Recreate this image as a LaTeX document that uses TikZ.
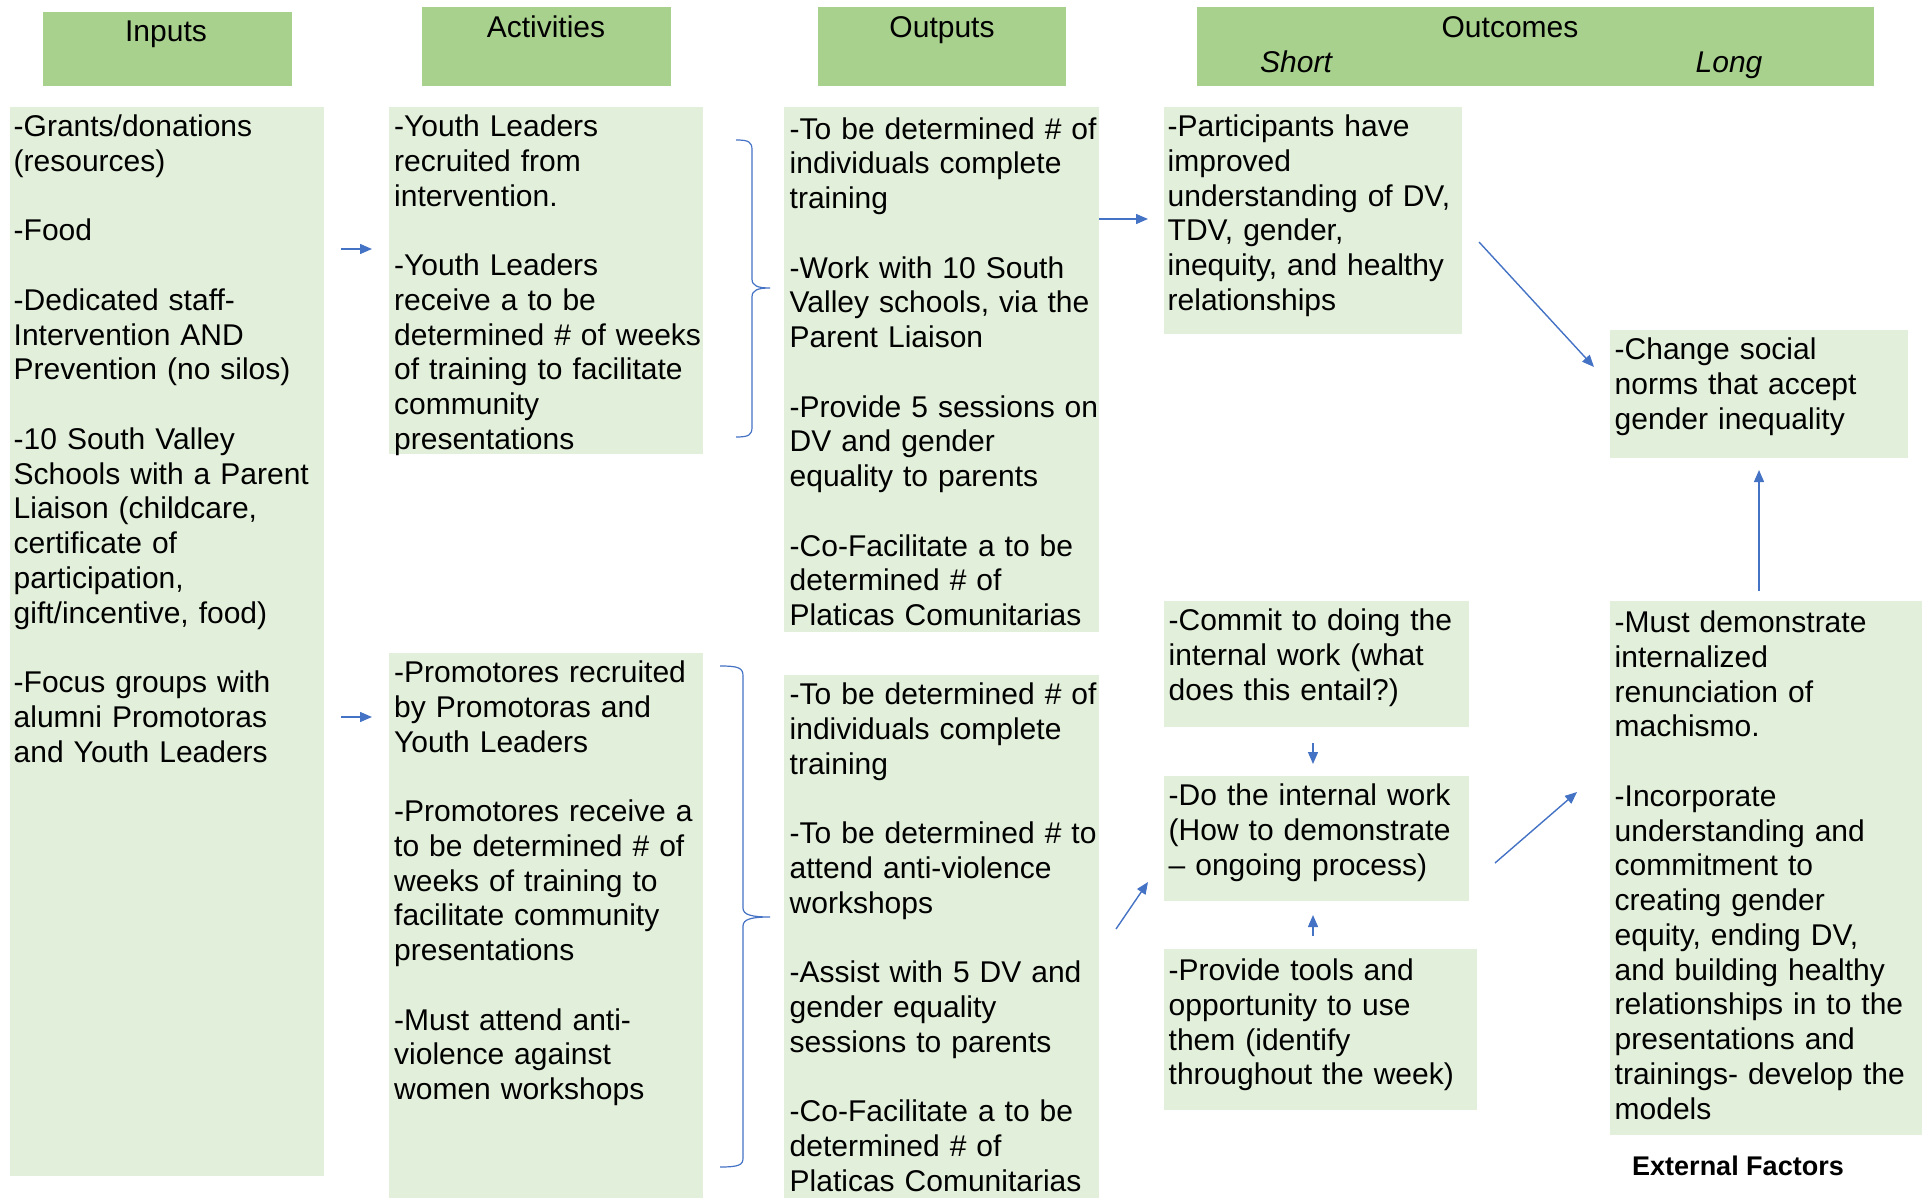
\documentclass[tikz,border=0pt]{standalone}
\usepackage{fontspec}
\setmainfont{Liberation Sans}
\usetikzlibrary{arrows.meta,calc}
\definecolor{hdr}{HTML}{A9D18E}
\definecolor{bod}{HTML}{E2EFDA}
\definecolor{arrc}{HTML}{4472C4}
\begin{document}
\begin{tikzpicture}[x=1pt,y=-1pt,
  box/.style={anchor=north west, inner sep=0pt, outer sep=0pt, fill=bod, draw=none},
  hbox/.style={anchor=north west, inner sep=0pt, outer sep=0pt, fill=hdr, draw=none},
  txt/.style={anchor=north west, inner sep=0pt, align=left, text width=330pt, font=\fontsize{30}{34.75}\selectfont},
  htxt/.style={anchor=base, inner sep=0pt, font=\fontsize{30}{34.75}\selectfont},
  conn/.style={draw=arrc, line width=1.4pt, -{Triangle[length=12pt,width=10pt]}},
  bracepath/.style={draw=arrc, line width=1.2pt}
]
\useasboundingbox (0,0) rectangle (1931,1198);

% headers
\node[hbox, minimum width=249pt, minimum height=74pt] (hin) at (43,12) {};
\node[hbox, minimum width=249pt, minimum height=79pt] (hact) at (422,7) {};
\node[hbox, minimum width=248pt, minimum height=79pt] (hout) at (818,7) {};
\node[hbox, minimum width=677pt, minimum height=79pt] (hoc) at (1197,7) {};
\node[htxt] (hinT) at (166,42) {Inputs};
\node[htxt] (hactT) at (546,38) {Activities};
\node[htxt] (houtT) at (942,38) {Outputs};
\node[htxt] (hocT) at (1510,38) {Outcomes};
\node[htxt, font=\fontsize{30}{34.75}\selectfont\itshape] (hshort) at (1296,73) {Short};
\node[htxt, font=\fontsize{30}{34.75}\selectfont\itshape] (hlong) at (1729,73) {Long};

% body boxes
\node[box, minimum width=314pt, minimum height=1069pt] (inputs) at (10,107) {};
\node[box, minimum width=314pt, minimum height=347pt] (act1) at (389,107) {};
\node[box, minimum width=314pt, minimum height=545pt] (act2) at (389,653) {};
\node[box, minimum width=315pt, minimum height=525pt] (out1) at (784,107) {};
\node[box, minimum width=315pt, minimum height=523pt] (out2) at (784,675) {};
\node[box, minimum width=298pt, minimum height=227pt] (part) at (1164,107) {};
\node[box, minimum width=298pt, minimum height=128pt] (change) at (1610,330) {};
\node[box, minimum width=305pt, minimum height=126pt] (commit) at (1164,601) {};
\node[box, minimum width=305pt, minimum height=125pt] (dowork) at (1164,776) {};
\node[box, minimum width=313pt, minimum height=161pt] (tools) at (1164,949) {};
\node[box, minimum width=312pt, minimum height=534pt] (must) at (1610,601) {};

% texts
\node[txt] (inputsT) at (13.5,112) {\strut-Grants/donations\\(resources)\\[34.75pt]-Food\\[34.75pt]-Dedicated staff-\\Intervention AND\\Prevention (no silos)\\[34.75pt]-10 South Valley\\Schools with a Parent\\Liaison (childcare,\\certificate of\\participation,\\gift/incentive, food)\\[34.75pt]-Focus groups with\\alumni Promotoras\\and Youth Leaders};
\node[txt] (act1T) at (394,112) {\strut-Youth Leaders\\recruited from\\intervention.\\[34.75pt]-Youth Leaders\\receive a to be\\determined \# of weeks\\of training to facilitate\\community\\presentations};
\node[txt] (act2T) at (394,658) {\strut-Promotores recruited\\by Promotoras and\\Youth Leaders\\[34.75pt]-Promotores receive a\\to be determined \# of\\weeks of training to\\facilitate community\\presentations\\[34.75pt]-Must attend anti-\\violence against\\women workshops};
\node[txt] (out1T) at (789.5,114.5) {\strut-To be determined \# of\\individuals complete\\training\\[34.75pt]-Work with 10 South\\Valley schools, via the\\Parent Liaison\\[34.75pt]-Provide 5 sessions on\\DV and gender\\equality to parents\\[34.75pt]-Co-Facilitate a to be\\determined \# of\\Platicas Comunitarias};
\node[txt] (out2T) at (789.5,680) {\strut-To be determined \# of\\individuals complete\\training\\[34.75pt]-To be determined \# to\\attend anti-violence\\workshops\\[34.75pt]-Assist with 5 DV and\\gender equality\\sessions to parents\\[34.75pt]-Co-Facilitate a to be\\determined \# of\\Platicas Comunitarias};
\node[txt] (partT) at (1167.5,112) {\strut-Participants have\\improved\\understanding of DV,\\TDV, gender,\\inequity, and healthy\\relationships};
\node[txt] (changeT) at (1614.5,335) {\strut-Change social\\norms that accept\\gender inequality};
\node[txt] (commitT) at (1168.5,606) {\strut-Commit to doing the\\internal work (what\\does this entail?)};
\node[txt] (doworkT) at (1168.5,781) {\strut-Do the internal work\\(How to demonstrate\\\textendash{} ongoing process)};
\node[txt] (toolsT) at (1168.5,956) {\strut-Provide tools and\\opportunity to use\\them (identify\\throughout the week)};
\node[txt] (mustT) at (1614.5,608) {\strut-Must demonstrate\\internalized\\renunciation of\\machismo.\\[34.75pt]-Incorporate\\understanding and\\commitment to\\creating gender\\equity, ending DV,\\and building healthy\\relationships in to the\\presentations and\\trainings- develop the\\models};
\node[htxt, font=\fontsize{27}{32}\selectfont\bfseries] (ext) at (1738,1175) {External Factors};

% braces
\draw[bracepath] (736,140) .. controls (749,140) and (752,142) .. (752,150) -- (752,279)
  .. controls (752,286) and (758,288) .. (770,288)
  .. controls (758,288) and (752,290) .. (752,297) -- (752,427)
  .. controls (752,435) and (749,437) .. (736,437);
\draw[bracepath] (720,666) .. controls (739,666) and (743,668) .. (743,676) -- (743,908)
  .. controls (743,915) and (752,917) .. (770,917)
  .. controls (752,917) and (743,919) .. (743,926) -- (743,1158)
  .. controls (743,1165) and (739,1167) .. (720,1167);

% connectors
\draw[conn] ($(inputs.north east)+(17,142)$) -- ($(act1.north west)+(-17,142)$);
\draw[conn] ($(inputs.north east)+(17,610)$) -- ($(act2.north west)+(-17,64)$);
\draw[conn] ($(out1.north east)+(0,112)$) -- ($(part.north west)+(-16,112)$);
\draw[conn] ($(part.north east)+(17,135)$) -- ($(change.north west)+(-16,37)$);
\draw[conn] ($(change.south)+(0,133)$) -- ($(change.south)+(0,12)$);
\draw[conn] ($(commit.south)+(-3.5,16)$) -- ($(dowork.north)+(-3.5,-12)$);
\draw[conn] ($(dowork.south)+(-3.5,35)$) -- ($(dowork.south)+(-3.5,14)$);
\draw[conn] ($(out2.north east)+(17,254)$) -- ($(dowork.north west)+(-16,106)$);
\draw[conn] ($(dowork.north east)+(26,87)$) -- ($(must.north west)+(-33,191)$);
\end{tikzpicture}
\end{document}
